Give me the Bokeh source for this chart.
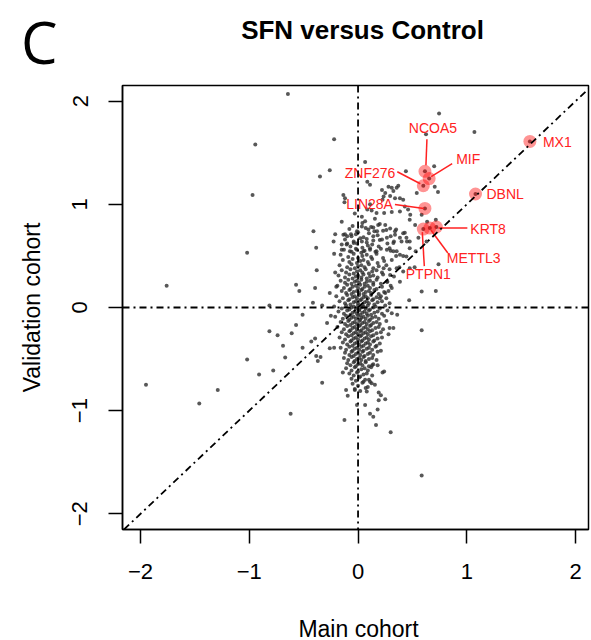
from bokeh.plotting import figure
from bokeh.models import Range1d, FixedTicker, Span, Slope, ColumnDataSource
from bokeh.layouts import column
from bokeh.core.properties import value
from bokeh.embed import file_html
from bokeh.resources import INLINE

# ---------------- data ----------------
title_text = "SFN versus Control"
panel_letter = "C"
x_title = "Main cohort"
y_title = "Validation cohort"
tick_values = [-2, -1, 0, 1, 2]
tick_labels = ["\u22122", "\u22121", "0", "1", "2"]

gene_names = ["MX1", "DBNL", "NCOA5", "MIF", "ZNF276", "LIN28A", "PTPN1", "METTL3", "KRT8"]
gene_main = [1.58, 1.08, 0.615, 0.654, 0.60, 0.615, 0.60, 0.66, 0.72]
gene_valid = [1.61, 1.10, 1.32, 1.25, 1.18, 0.96, 0.76, 0.77, 0.78]

# scattered genes outside the dense core
halo_main = [
    -0.645, -0.945, -0.22, -0.26, -0.35, -0.97, -0.135, -0.125, -0.03, -0.15, -0.41, -0.21, -0.385, -0.22, -1.02,
    -0.38, -0.21, -1.76, -0.57, -0.54, -0.395, -0.26, -0.415, -0.815, -0.33, -0.2, -0.12, -0.065, -0.1,
    -1.95, -1.46, -1.29, -1.02, -0.91, -0.78, -0.815, -0.74, -0.69, -0.67, -0.61, -0.57, -0.51, -0.51, -0.62,
    -0.43, -0.395, -0.385, -0.37, -0.345, -0.33, -0.285, -0.25, -0.26, -0.22, -0.14, -0.11, -0.095, -0.125, -0.03, -0.01,
    0.585, 0.585, 0.30, 0.165, 0.18, 0.14, 0.11, 0.065, 0.25, 0.19, 0.21, 0.19, 0.24, 0.225, 0.325, 0.29, 0.36, 0.31,
    0.18, 0.13, 0.11, 0.08, 0.065, 0.155, 0.125,
    -0.12, 0.085, 0.28, 0.37, 0.44, 0.325, 0.25, 0.225, 0.295, 0.34, 0.11, 0.085, 0.125, 0.17, 0.24, 0.31, 0.385, 0.46,
    0.035, 0.065, 0.155, -0.225, -0.135, -0.06, -0.01, 0.035, 0.095, 0.14, 0.175, 0.23, 0.295, 0.35, 0.185, 0.25,
    0.34, 0.415, 0.445, 0.475, 0.40, 0.325, 0.265, 0.20, 0.14, 0.08, 0.035, -0.04, -0.105, -0.15, -0.075, -0.01,
    0.05, 0.11, 0.17, 0.265, 0.325, 0.385, 0.445,
    0.745, 1.07, 0.625, 0.065, 0.70, 0.705, 0.735, 0.54, 0.585, 0.635, 0.715, 0.48, 0.525, 0.63, 0.74, 0.715, 0.585,
    0.47, 0.385, 0.52, 0.415, 0.385, 0.415, 0.43, 0.31, 0.22, 0.235, 0.355, 0.11, 0.475, 0.555, 0.53, 0.475, 0.45,
    0.385, 0.34, 0.43, 0.29, 0.355, 0.415, 0.475, 0.355, 0.295, 0.235, 0.265, 0.31, 0.25, 0.2,
]
halo_valid = [
    2.07, 1.58, 1.63, 1.33, 1.27, 1.09, 1.09, 1.02, 0.91, 0.83, 0.74, 0.71, 0.58, 0.52, 0.53,
    0.36, 0.34, 0.21, 0.22, 0.16, 0.19, 0.14, 0.045, 0.02, 0.02, 0.2, 0.71, 0.71, 0.62,
    -0.75, -0.93, -0.80, -0.505, -0.65, -0.61, -0.23, -0.27, -0.37, -0.485, -0.25, -0.17, -0.07, -0.39, -1.03,
    -0.33, -0.30, -0.47, -0.52, -0.48, -0.73, -0.15, -0.08, -0.395, -0.39, -0.63, -0.80, -0.855, -1.09, -0.80, -0.945,
    -0.22, -1.63, -1.21, -1.14, -0.99, -1.06, -1.03, -0.945, -0.89, -0.90, -0.85, -0.825, -0.62, -0.63, -0.20, -0.20, -0.07, -0.055,
    -0.56, -0.56, -0.72, -0.815, -0.70, -0.75, -0.735,
    1.06, 1.22, 1.17, 1.18, 1.32, 1.13, 1.11, 1.045, 1.08, 1.06, 1.0, 0.95, 0.94, 0.915, 0.915, 0.925, 0.93, 0.95,
    0.88, 0.835, 0.86, 0.64, 0.705, 0.69, 0.74, 0.785, 0.755, 0.775, 0.74, 0.745, 0.765, 0.755, 0.80, 0.80,
    0.705, 0.72, 0.675, 0.64, 0.64, 0.625, 0.675, 0.655, 0.69, 0.665, 0.64, 0.625, 0.61, 0.56, 0.545, 0.56,
    0.545, 0.575, 0.545, 0.56, 0.545, 0.51, 0.495,
    1.88, 1.70, 1.68, 1.41, 1.37, 1.17, 1.12, 1.11, 0.90, 0.83, 0.85, 0.90, 0.80, 0.64, 0.42, 0.16, 0.155,
    0.07, 0.25, 0.39, 0.50, 1.06, 1.045, 0.98, 1.16, 1.14, 1.075, 1.16, 1.19, 0.85, 0.675, 0.545, 0.575, 0.64,
    0.675, 0.74, 0.725, 0.575, 0.545, 0.35, 0.38, 0.38, 0.315, 0.38, 0.25, 0.19, 0.14, 0.09,
]

# dense core, one line per horizontal band
core_main = [
    -0.05, 0.04, 0.12, 0.2,
    -0.08, 0.0, 0.07, 0.15, 0.26,
    -0.1, -0.02, 0.05, 0.1, 0.18, 0.3,
    -0.12, -0.04, 0.02, 0.08, 0.14, 0.22, 0.33,
    -0.15, -0.07, -0.01, 0.04, 0.09, 0.13, 0.19, 0.27,
    -0.13, -0.06, -0.02, 0.03, 0.06, 0.11, 0.16, 0.21, 0.3,
    -0.16, -0.09, -0.04, 0.0, 0.04, 0.08, 0.12, 0.17, 0.23, 0.35,
    -0.14, -0.08, -0.05, -0.01, 0.02, 0.05, 0.09, 0.13, 0.18, 0.24, 0.31,
    -0.17, -0.1, -0.06, -0.03, 0.0, 0.03, 0.06, 0.1, 0.14, 0.19, 0.26, 0.38,
    -0.15, -0.11, -0.07, -0.04, -0.01, 0.02, 0.04, 0.07, 0.1, 0.13, 0.17, 0.22, 0.29,
    -0.18, -0.12, -0.08, -0.05, -0.02, 0.0, 0.03, 0.05, 0.08, 0.11, 0.14, 0.18, 0.23, 0.33,
    -0.16, -0.12, -0.09, -0.06, -0.03, -0.01, 0.01, 0.03, 0.06, 0.08, 0.11, 0.14, 0.17, 0.21, 0.27,
    -0.19, -0.13, -0.1, -0.07, -0.05, -0.02, 0.0, 0.02, 0.04, 0.06, 0.09, 0.11, 0.14, 0.17, 0.22, 0.3,
    -0.15, -0.11, -0.08, -0.06, -0.04, -0.01, 0.01, 0.03, 0.05, 0.07, 0.1, 0.12, 0.15, 0.19, 0.24, 0.28,
    -0.2, -0.14, -0.1, -0.08, -0.05, -0.03, -0.01, 0.01, 0.03, 0.05, 0.07, 0.09, 0.12, 0.14, 0.17, 0.21, 0.26,
    -0.17, -0.12, -0.09, -0.07, -0.04, -0.02, 0.0, 0.02, 0.04, 0.06, 0.08, 0.1, 0.13, 0.15, 0.18, 0.22, 0.29,
    -0.22, -0.15, -0.11, -0.08, -0.06, -0.04, -0.02, 0.0, 0.01, 0.03, 0.05, 0.07, 0.09, 0.11, 0.14, 0.16, 0.2, 0.25,
    -0.18, -0.13, -0.1, -0.07, -0.05, -0.03, -0.01, 0.01, 0.02, 0.04, 0.06, 0.08, 0.1, 0.12, 0.15, 0.18, 0.22, 0.27,
    -0.21, -0.14, -0.11, -0.08, -0.06, -0.04, -0.02, 0.0, 0.02, 0.03, 0.05, 0.07, 0.09, 0.11, 0.13, 0.16, 0.19, 0.24,
    -0.16, -0.12, -0.09, -0.07, -0.05, -0.03, -0.01, 0.01, 0.02, 0.04, 0.06, 0.08, 0.1, 0.12, 0.14, 0.17, 0.2, 0.26,
    -0.19, -0.13, -0.1, -0.07, -0.05, -0.03, -0.01, 0.01, 0.03, 0.05, 0.07, 0.09, 0.11, 0.13, 0.16, 0.19, 0.23,
    -0.15, -0.11, -0.08, -0.06, -0.04, -0.02, 0.0, 0.02, 0.03, 0.05, 0.07, 0.09, 0.11, 0.14, 0.17, 0.21, 0.28,
    -0.17, -0.12, -0.09, -0.06, -0.04, -0.02, 0.0, 0.02, 0.04, 0.06, 0.08, 0.1, 0.12, 0.15, 0.18, 0.22,
    -0.14, -0.1, -0.07, -0.05, -0.03, -0.01, 0.01, 0.03, 0.05, 0.07, 0.09, 0.11, 0.14, 0.17, 0.2,
    -0.16, -0.11, -0.08, -0.05, -0.03, -0.01, 0.01, 0.03, 0.05, 0.08, 0.1, 0.13, 0.16, 0.21,
    -0.12, -0.08, -0.06, -0.04, -0.02, 0.0, 0.02, 0.04, 0.06, 0.09, 0.11, 0.14, 0.18,
    -0.13, -0.09, -0.06, -0.03, -0.01, 0.01, 0.03, 0.05, 0.07, 0.1, 0.13, 0.17,
    -0.1, -0.07, -0.04, -0.02, 0.0, 0.02, 0.04, 0.07, 0.1, 0.14,
    -0.11, -0.06, -0.03, 0.0, 0.03, 0.06, 0.09, 0.12,
    -0.08, -0.04, -0.01, 0.02, 0.05, 0.08, 0.13,
    -0.06, -0.02, 0.01, 0.05, 0.1,
    -0.05, 0.0, 0.04, 0.09,
    -0.03, 0.02, 0.07,
]
core_valid = [
    0.79, 0.82, 0.78, 0.81,
    0.76, 0.73, 0.77, 0.74, 0.75,
    0.69, 0.71, 0.68, 0.72, 0.7, 0.69,
    0.66, 0.64, 0.67, 0.63, 0.65, 0.66, 0.64,
    0.61, 0.59, 0.62, 0.58, 0.6, 0.61, 0.59, 0.62,
    0.56, 0.54, 0.57, 0.53, 0.55, 0.56, 0.54, 0.57, 0.55,
    0.51, 0.49, 0.52, 0.48, 0.5, 0.51, 0.49, 0.52, 0.48, 0.5,
    0.46, 0.44, 0.47, 0.43, 0.45, 0.46, 0.44, 0.47, 0.43, 0.45, 0.46,
    0.41, 0.39, 0.42, 0.38, 0.4, 0.41, 0.39, 0.42, 0.38, 0.4, 0.41, 0.39,
    0.36, 0.34, 0.37, 0.33, 0.35, 0.36, 0.34, 0.37, 0.33, 0.35, 0.36, 0.34, 0.37,
    0.31, 0.29, 0.32, 0.28, 0.3, 0.31, 0.29, 0.32, 0.28, 0.3, 0.31, 0.29, 0.32, 0.3,
    0.26, 0.24, 0.27, 0.23, 0.25, 0.26, 0.24, 0.27, 0.23, 0.25, 0.26, 0.24, 0.27, 0.23, 0.25,
    0.21, 0.19, 0.22, 0.18, 0.2, 0.21, 0.19, 0.22, 0.18, 0.2, 0.21, 0.19, 0.22, 0.18, 0.2, 0.21,
    0.16, 0.14, 0.17, 0.13, 0.15, 0.16, 0.14, 0.17, 0.13, 0.15, 0.16, 0.14, 0.17, 0.13, 0.15, 0.16,
    0.11, 0.09, 0.12, 0.08, 0.1, 0.11, 0.09, 0.12, 0.08, 0.1, 0.11, 0.09, 0.12, 0.08, 0.1, 0.11, 0.09,
    0.06, 0.04, 0.07, 0.03, 0.05, 0.06, 0.04, 0.07, 0.03, 0.05, 0.06, 0.04, 0.07, 0.03, 0.05, 0.06, 0.04,
    0.01, -0.01, 0.02, -0.02, 0.0, 0.01, -0.01, 0.02, -0.02, 0.0, 0.01, -0.01, 0.02, -0.02, 0.0, 0.01, -0.01, 0.02,
    -0.04, -0.06, -0.03, -0.07, -0.05, -0.04, -0.06, -0.03, -0.07, -0.05, -0.04, -0.06, -0.03, -0.07, -0.05, -0.04, -0.06, -0.03,
    -0.09, -0.11, -0.08, -0.12, -0.1, -0.09, -0.11, -0.08, -0.12, -0.1, -0.09, -0.11, -0.08, -0.12, -0.1, -0.09, -0.11, -0.08,
    -0.14, -0.16, -0.13, -0.17, -0.15, -0.14, -0.16, -0.13, -0.17, -0.15, -0.14, -0.16, -0.13, -0.17, -0.15, -0.14, -0.16, -0.13,
    -0.19, -0.21, -0.18, -0.22, -0.2, -0.19, -0.21, -0.18, -0.22, -0.2, -0.19, -0.21, -0.18, -0.22, -0.2, -0.19, -0.21,
    -0.24, -0.26, -0.23, -0.27, -0.25, -0.24, -0.26, -0.23, -0.27, -0.25, -0.24, -0.26, -0.23, -0.27, -0.25, -0.24, -0.26,
    -0.29, -0.31, -0.28, -0.32, -0.3, -0.29, -0.31, -0.28, -0.32, -0.3, -0.29, -0.31, -0.28, -0.32, -0.3, -0.29,
    -0.34, -0.36, -0.33, -0.37, -0.35, -0.34, -0.36, -0.33, -0.37, -0.35, -0.34, -0.36, -0.33, -0.37, -0.35,
    -0.39, -0.41, -0.38, -0.42, -0.4, -0.39, -0.41, -0.38, -0.42, -0.4, -0.39, -0.41, -0.38, -0.42,
    -0.44, -0.46, -0.43, -0.47, -0.45, -0.44, -0.46, -0.43, -0.47, -0.45, -0.44, -0.46, -0.43,
    -0.49, -0.51, -0.48, -0.52, -0.5, -0.49, -0.51, -0.48, -0.52, -0.5, -0.49, -0.51,
    -0.54, -0.56, -0.53, -0.57, -0.55, -0.54, -0.56, -0.53, -0.57, -0.55,
    -0.59, -0.61, -0.58, -0.62, -0.6, -0.59, -0.61, -0.58,
    -0.64, -0.66, -0.63, -0.67, -0.65, -0.64, -0.66,
    -0.69, -0.71, -0.68, -0.72, -0.7,
    -0.74, -0.76, -0.73, -0.77,
    -0.79, -0.81, -0.78,
]

# ---------------- layout (page pixels) ----------------
PAGE_W = 591
TOP_H = 83            # strip holding panel letter and title
BOTTOM_Y = 600        # strip holding the x title starts here
PAGE_H = 640
FL, FR, FT, FB = 122, 588, 85, 529      # plot frame edges on the page
PX_PER_X, PX_PER_Y = 108.75, 103.15
X0 = -2.166
X1 = X0 + (FR - FL) / PX_PER_X
Y1 = 2.152
Y0 = Y1 - (FB - FT) / PX_PER_Y

# label placement for highlighted genes: text offset (px, y down), alignment,
# leader line start and end offsets (px) relative to the gene point
label_dx = [13, 11, 8, 27, -28, -32, 5, 17, 34]
label_dy = [1, 0, -43, -20, -13, -4, 45, 30, 2]
label_align = ["left", "left", "center", "left", "right", "right", "center", "left", "left"]
line_from = [None, None, (2, -32), (23, -15), (-26, -14), (-30, -4), (1, 37), (18, 25), (31, 1)]
line_to = [None, None, (1, -6), (2, -2), (-3, -2), (-1, 0), (-1, 3), (1, 2), (2, 1)]

FONT = "Liberation Sans"
RED = "#ff2222"


def text_strip(height, y_top):
    # frames of figures in a column are aligned, so x runs over the plot frame in page px
    f = figure(width=PAGE_W, height=height, x_range=Range1d(FL, FR),
               y_range=Range1d(y_top + height, y_top), x_axis_type=None,
               output_backend="svg", toolbar_location=None, min_border=0)
    f.outline_line_color = None
    f.grid.visible = False
    ya = f.yaxis[0]
    ya.ticker = FixedTicker(ticks=[])
    ya.axis_line_color = None
    ya.major_tick_line_color = None
    ya.minor_tick_line_color = None
    return f


# ---- top strip: panel letter (as the strip's only axis label) and title ----
top = text_strip(TOP_H, 0)
ya = top.yaxis[0]
ya.ticker = FixedTicker(ticks=[38])
ya.major_label_overrides = {38: panel_letter}
ya.major_label_text_font = "Open Sans"
ya.major_label_text_font_size = "58px"
ya.major_label_text_color = "black"
ya.major_tick_out = 0
ya.major_tick_in = 0
ya.major_label_standoff = 65
top.text(x=[362], y=[29], text=[title_text], text_align="center", text_baseline="middle",
         text_font=value(FONT), text_font_size="26px", text_font_style="bold", text_color="black")

# ---- main scatter ----
MAIN_H = BOTTOM_Y - TOP_H
p = figure(width=PAGE_W, height=MAIN_H, x_range=Range1d(X0, X1), y_range=Range1d(Y0, Y1),
           output_backend="svg", toolbar_location=None,
           min_border_left=FL, min_border_right=PAGE_W - FR,
           min_border_top=FT - TOP_H, min_border_bottom=MAIN_H - (FB - TOP_H))
p.xgrid.visible = False
p.ygrid.visible = False
p.outline_line_color = "black"
p.outline_line_width = 1.5

for ax in (p.xaxis[0], p.yaxis[0]):
    ax.ticker = FixedTicker(ticks=tick_values)
    ax.major_label_overrides = dict(zip(tick_values, tick_labels))
    ax.minor_tick_line_color = None
    ax.major_tick_out = 14
    ax.major_tick_in = 0
    ax.major_tick_line_width = 1.5
    ax.axis_line_width = 1.5
    ax.major_label_text_font = FONT
    ax.major_label_text_font_size = "22px"
    ax.major_label_text_color = "black"
p.xaxis.major_label_standoff = 20
p.yaxis.major_label_standoff = 21
p.yaxis.major_label_orientation = "vertical"
p.yaxis.axis_label = y_title
p.yaxis.axis_label_text_font = FONT
p.yaxis.axis_label_text_font_size = "23px"
p.yaxis.axis_label_text_font_style = "normal"
p.yaxis.axis_label_text_color = "black"
p.yaxis.axis_label_standoff = 25

dash = "7 4 2 4"
p.add_layout(Span(location=0, dimension="height", line_color="black", line_width=1.8, line_dash=dash))
p.add_layout(Span(location=0, dimension="width", line_color="black", line_width=1.8, line_dash=dash))
p.add_layout(Slope(gradient=1, y_intercept=0, line_color="black", line_width=1.8, line_dash=dash))

all_x = core_main + halo_main + gene_main
all_y = core_valid + halo_valid + gene_valid
p.scatter(all_x, all_y, size=4, fill_color="#2e2e2e", fill_alpha=0.8, line_color=None)

p.scatter(gene_main, gene_valid, size=13, fill_color="red", fill_alpha=0.42, line_color=None)

sx0, sy0, sx1, sy1 = [], [], [], []
for gx, gy, a, b in zip(gene_main, gene_valid, line_from, line_to):
    if a is None:
        continue
    sx0.append(gx + a[0] / PX_PER_X)
    sy0.append(gy - a[1] / PX_PER_Y)
    sx1.append(gx + b[0] / PX_PER_X)
    sy1.append(gy - b[1] / PX_PER_Y)
p.segment(sx0, sy0, sx1, sy1, line_color=RED, line_width=1.5)

src = ColumnDataSource(dict(x=gene_main, y=gene_valid, t=gene_names,
                            dx=label_dx, dy=label_dy, al=label_align))
p.text(x="x", y="y", text="t", x_offset="dx", y_offset="dy", text_align="al",
       text_baseline="middle", text_color=RED, text_font=value(FONT),
       text_font_size="14px", source=src)

# ---- bottom strip: x title ----
bottom = text_strip(PAGE_H - BOTTOM_Y, BOTTOM_Y)
bottom.text(x=[358], y=[628], text=[x_title], text_align="center", text_baseline="middle",
            text_font=value(FONT), text_font_size="23px", text_color="black")

layout = column(top, p, bottom, spacing=0)
open("out.html", "w").write(file_html(layout, INLINE))
